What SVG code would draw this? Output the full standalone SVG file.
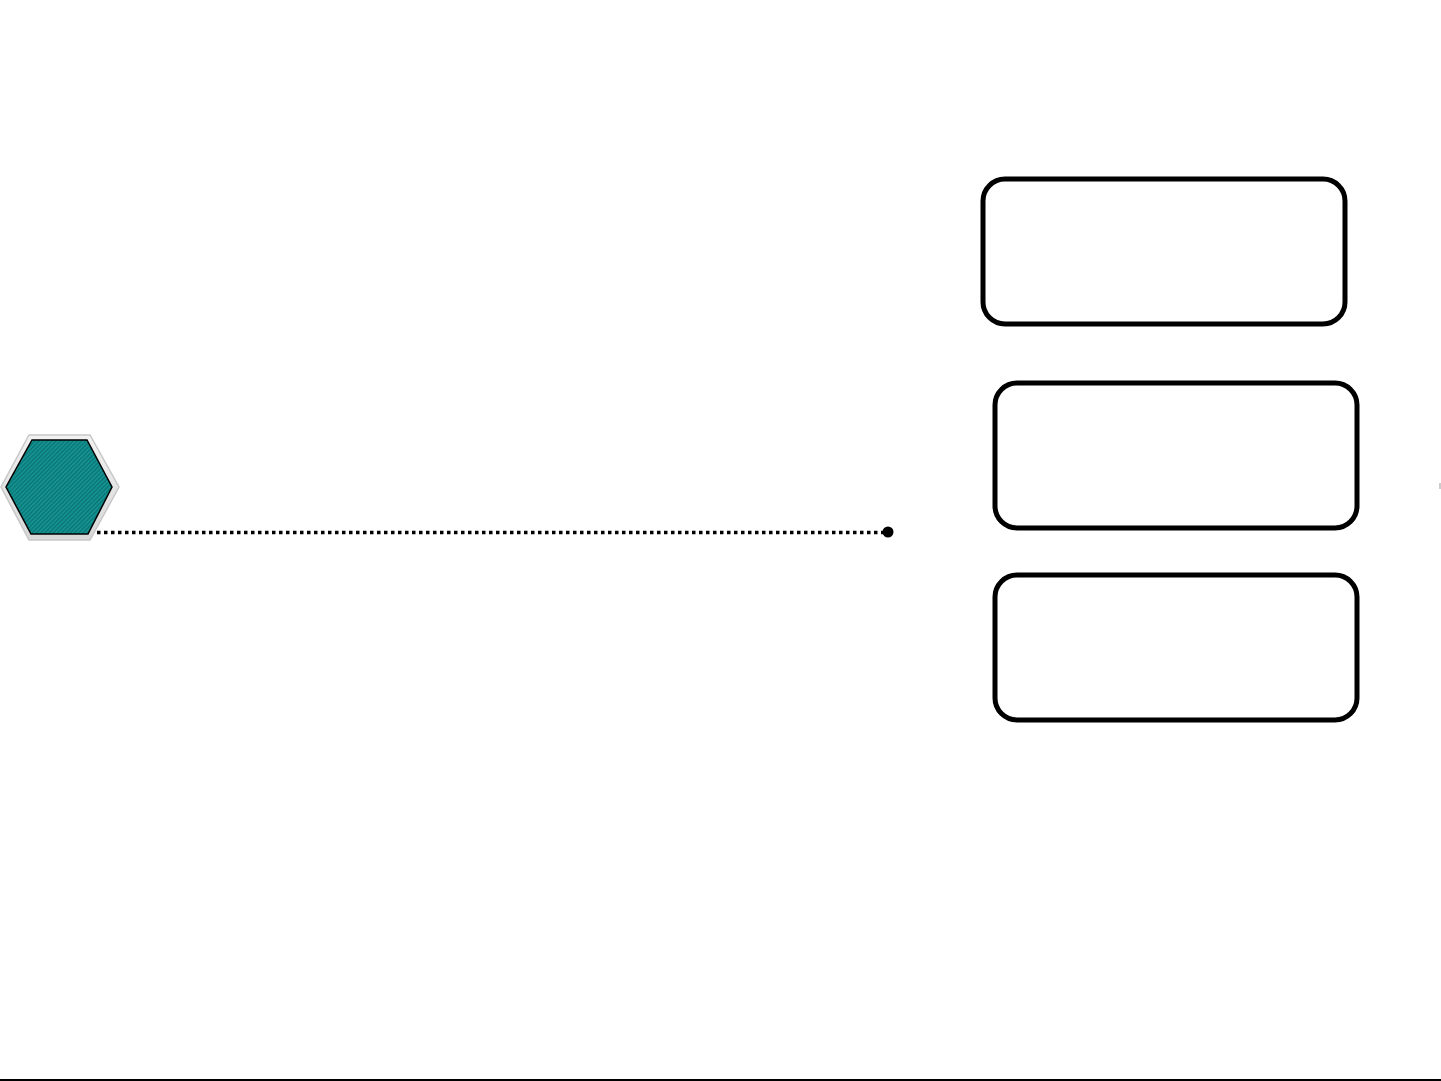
<svg xmlns="http://www.w3.org/2000/svg" width="1441" height="1081" viewBox="0 0 1441 1081">
<style>
.box{fill:#fff;stroke:#000;stroke-width:5}
</style>
<defs>
<pattern id="stripes" width="3" height="3" patternUnits="userSpaceOnUse" patternTransform="rotate(-45)">
<rect width="3" height="3" fill="#139090"/>
<rect width="3" height="1" fill="#0b7070"/>
</pattern>
<linearGradient id="rim" x1="0" y1="0" x2="0" y2="1">
<stop offset="0" stop-color="#f2f2f2"/>
<stop offset="1" stop-color="#d8d8d8"/>
</linearGradient>
</defs>
<rect width="1441" height="1081" fill="#fff"/>
<g id="hexagon">
<polygon points="29,435 90,435 119,487 90,540 29,540 1,487" fill="url(#rim)" stroke="#c8c8c8" stroke-width="1.5"/>
<polygon points="32,440 87,440 112,487 88,534 31,534 6,487" fill="url(#stripes)" stroke="#000" stroke-width="1.5"/>
</g>
<g id="connectors">
<line x1="97" y1="532.5" x2="883" y2="532.5" stroke="#000" stroke-width="3.5" stroke-dasharray="3.5,3.5"/>
<circle cx="888" cy="532" r="5.5" fill="#000"/>
</g>
<g id="box1"><rect class="box" x="983" y="179" width="362" height="145" rx="22"/></g>
<g id="box2"><rect class="box" x="995" y="383" width="362" height="145" rx="22"/></g>
<g id="box3"><rect class="box" x="995" y="575" width="362" height="145" rx="22"/></g>
<line x1="1440" y1="483" x2="1440" y2="489" stroke="#999" stroke-width="1"/>
<line x1="0" y1="1080" x2="1441" y2="1080" stroke="#000" stroke-width="2"/>
</svg>
